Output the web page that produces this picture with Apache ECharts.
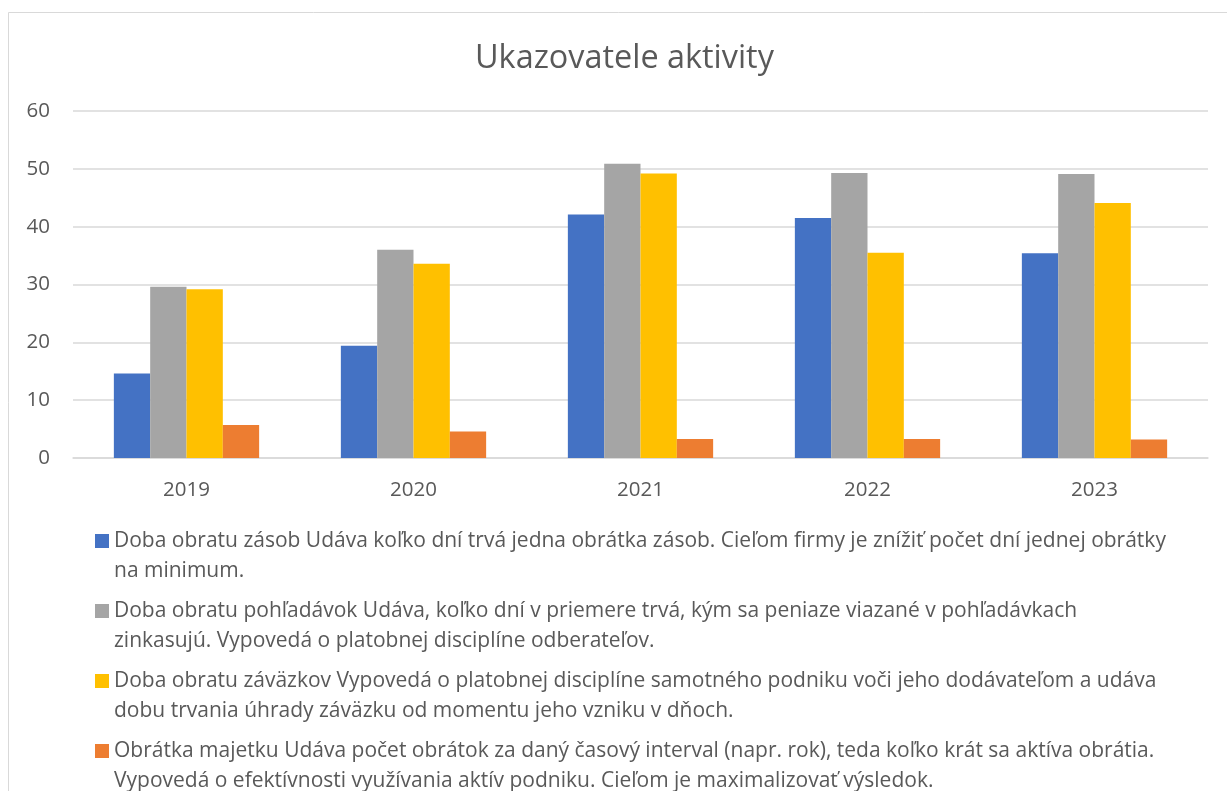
<!DOCTYPE html>
<html>
<head>
<meta charset="utf-8">
<script src="https://cdn.jsdelivr.net/npm/echarts@6/dist/echarts.min.js"></script>
<style>
html,body{margin:0;padding:0;background:#fff;}
#chart{width:1227px;height:791px;}
</style>
</head>
<body>
<div id="chart"></div>
<script>
const categories = ['2019', '2020', '2021', '2022', '2023'];
const seriesNames = [
  'Doba obratu zásob Udáva koľko dní trvá jedna obrátka zásob. Cieľom firmy je znížiť počet dní jednej obrátky\nna minimum.',
  'Doba obratu pohľadávok Udáva, koľko dní v priemere trvá, kým sa peniaze viazané v pohľadávkach\nzinkasujú. Vypovedá o platobnej disciplíne odberateľov.',
  'Doba obratu záväzkov Vypovedá o platobnej disciplíne samotného podniku voči jeho dodávateľom a udáva\ndobu trvania úhrady záväzku od momentu jeho vzniku v dňoch.',
  'Obrátka majetku Udáva počet obrátok za daný časový interval (napr. rok), teda koľko krát sa aktíva obrátia.\nVypovedá o efektívnosti využívania aktív podniku. Cieľom je maximalizovať výsledok.'
];
const dobaObratuZasob = [14.6, 19.4, 42.1, 41.5, 35.4];
const dobaObratuPohladavok = [29.6, 36.0, 50.9, 49.3, 49.1];
const dobaObratuZavazkov = [29.2, 33.6, 49.2, 35.5, 44.1];
const obratkaMajetku = [5.7, 4.6, 3.3, 3.3, 3.2];
const yTicks = [0, 10, 20, 30, 40, 50, 60];

const colors = ['#4472C4', '#A5A5A5', '#FFC000', '#ED7D31'];
const values = [dobaObratuZasob, dobaObratuPohladavok, dobaObratuZavazkov, obratkaMajetku];
const FONT = '"Open Sans", sans-serif';

const chart = echarts.init(document.getElementById('chart'), null, {renderer: 'canvas'});
chart.setOption({
  animation: false,
  backgroundColor: '#fff',
  color: colors,
  textStyle: {fontFamily: FONT},
  title: {
    text: 'Ukazovatele aktivity',
    left: 475,
    top: 43,
    padding: 0,
    textStyle: {fontFamily: FONT, fontSize: 32.4, fontWeight: 'normal', color: '#595959'}
  },
  graphic: [{
    type: 'rect',
    shape: {x: 8.5, y: 12.5, width: 1240, height: 800},
    style: {fill: 'none', stroke: '#D9D9D9', lineWidth: 1},
    silent: true,
    z: -10
  }],
  grid: {left: 73, right: 19, top: 111, bottom: 333, containLabel: false},
  xAxis: {
    type: 'category',
    data: categories,
    axisLine: {lineStyle: {color: '#D9D9D9', width: 1.5}},
    axisTick: {show: false},
    axisLabel: {color: '#595959', fontSize: 20.5, margin: 22, fontFamily: FONT}
  },
  yAxis: {
    type: 'value',
    min: yTicks[0],
    max: yTicks[yTicks.length - 1],
    interval: 10,
    axisLine: {show: false},
    axisTick: {show: false},
    splitLine: {lineStyle: {color: '#D9D9D9', width: 1.5}},
    axisLabel: {color: '#595959', fontSize: 20.5, margin: 23, fontFamily: FONT}
  },
  legend: {
    orient: 'vertical',
    left: 95,
    top: 526,
    height: 400,
    padding: 0,
    itemWidth: 14,
    itemHeight: 44,
    itemGap: 10,
    icon: 'path://M0,0L14,0L14,14L0,14Z M0,44',
    data: seriesNames,
    textStyle: {color: '#595959', fontSize: 21, lineHeight: 30, fontFamily: FONT}
  },
  series: seriesNames.map((name, i) => ({
    name: name,
    type: 'bar',
    data: values[i],
    barGap: '0%',
    barCategoryGap: '36%',
    itemStyle: {color: colors[i]}
  }))
});
</script>
</body>
</html>
